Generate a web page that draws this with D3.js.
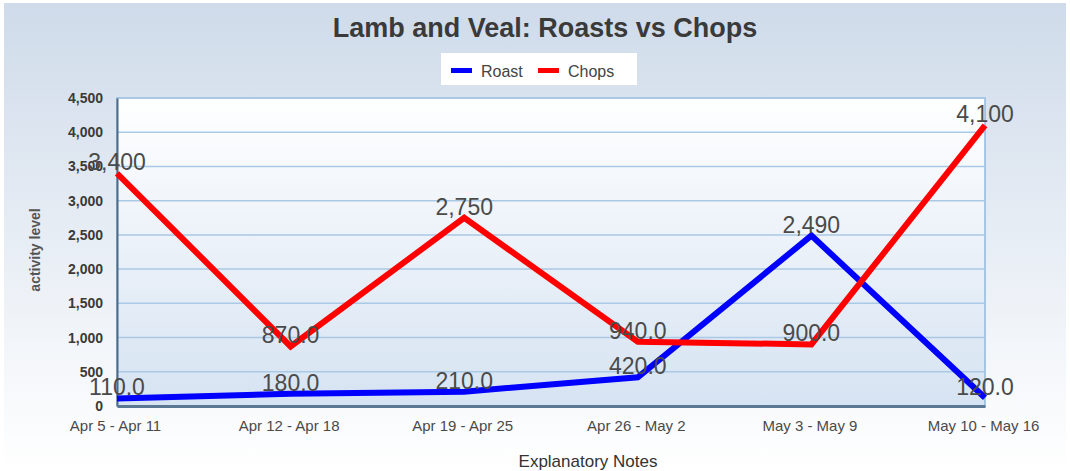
<!DOCTYPE html>
<html><head><meta charset="utf-8">
<script src="https://cdn.jsdelivr.net/npm/d3@7"></script>
<style>body{margin:0;background:#fff}svg{display:block}</style>
</head><body>
<svg id="c" width="1070" height="471"></svg>
<script>
const categories = ["Apr 5 - Apr 11","Apr 12 - Apr 18","Apr 19 - Apr 25","Apr 26 - May 2","May 3 - May 9","May 10 - May 16"];
const roast = [110, 180, 210, 420, 2490, 120];
const chops = [3400, 870, 2750, 940, 900, 4100];
const yTicks = [0,500,1000,1500,2000,2500,3000,3500,4000,4500];
const seriesNames = ["Roast","Chops"];
const seriesColors = ["#0000ff","#ff0000"];
const FONT = "Liberation Sans, Arial, sans-serif";

const svg = d3.select("#c");
const defs = svg.append("defs");
const bg = defs.append("linearGradient").attr("id","bg").attr("x1",0).attr("y1",0).attr("x2",0).attr("y2",1);
bg.append("stop").attr("offset","0%").attr("stop-color","#cfdbea");
bg.append("stop").attr("offset","100%").attr("stop-color","#ffffff");
const pg = defs.append("linearGradient").attr("id","pg").attr("x1",0).attr("y1",0).attr("x2",0).attr("y2",1);
pg.append("stop").attr("offset","0%").attr("stop-color","#ffffff");
pg.append("stop").attr("offset","100%").attr("stop-color","#d6e3f2");

svg.append("rect").attr("x",4).attr("y",3).attr("width",1062).attr("height",468).attr("fill","url(#bg)");

const L = 117, R = 985, T = 98, B = 406;
const x = d3.scalePoint().domain(categories).range([L,R]);
const y = d3.scaleLinear().domain([0,4500]).range([B,T]);

svg.append("rect").attr("x",L).attr("y",T).attr("width",R-L).attr("height",B-T).attr("fill","url(#pg)")
  .attr("stroke","#8fb8dc").attr("stroke-width",1.5);

// gridlines
svg.append("g").selectAll("line").data(yTicks.filter(d=>d>0)).join("line")
  .attr("x1",L).attr("x2",R).attr("y1",d=>y(d)).attr("y2",d=>y(d))
  .attr("stroke","#a9c9e6").attr("stroke-width",1.5);

// axes
const yAxis = svg.append("g").attr("transform",`translate(${L},0)`)
  .call(d3.axisLeft(y).tickValues(yTicks).tickFormat(d3.format(",")).tickSize(0).tickPadding(14));
yAxis.select(".domain").attr("stroke","#4d6b86").attr("stroke-width",2);
yAxis.selectAll("text").attr("font-family",FONT).attr("font-size",14).attr("font-weight","bold").attr("fill","#3a3a3a");

const xAxis = svg.append("g").attr("transform",`translate(0,${B})`)
  .call(d3.axisBottom(x).tickSize(0).tickPadding(14));
xAxis.select(".domain").attr("stroke","#5a7893").attr("stroke-width",3);
xAxis.selectAll("text").attr("font-family",FONT).attr("font-size",15).attr("fill","#4a4a4a").attr("dx",-2);

// lines
const line = d3.line().x((d,i)=>x(categories[i])).y(d=>y(d));
[roast, chops].forEach((s,k)=>{
  svg.append("path").datum(s).attr("d",line).attr("fill","none")
    .attr("stroke",seriesColors[k]).attr("stroke-width",6).attr("stroke-linejoin","miter");
});

// data labels
const fmt = v => v >= 1000 ? d3.format(",")(v) : d3.format(".1f")(v);
[roast, chops].forEach((s,k)=>{
  svg.append("g").selectAll("text").data(s).join("text")
    .attr("x",(d,i)=>x(categories[i])).attr("y",d=>y(d)-3)
    .attr("text-anchor","middle")
    .attr("font-family",FONT).attr("font-size",23)
    .attr("fill","#4a4a4a").text(fmt);
});

// title
svg.append("text").attr("x",545).attr("y",37).attr("text-anchor","middle")
  .attr("font-family",FONT).attr("font-size",27).attr("font-weight","bold")
  .attr("fill","#3a3a3a").text("Lamb and Veal: Roasts vs Chops");

// legend
svg.append("rect").attr("x",441).attr("y",53).attr("width",196).attr("height",32).attr("fill","#fff");
const legX = [451, 538];
seriesNames.forEach((n,k)=>{
  svg.append("rect").attr("x",legX[k]).attr("y",68).attr("width",21).attr("height",5).attr("fill",seriesColors[k]);
  svg.append("text").attr("x",legX[k]+30).attr("y",77)
    .attr("font-family",FONT).attr("font-size",16).attr("fill","#444").text(n);
});

// axis titles
svg.append("text").attr("transform","translate(40,250) rotate(-90)").attr("text-anchor","middle")
  .attr("font-family",FONT).attr("font-size",14).attr("font-weight","bold")
  .attr("fill","#555").text("activity level");
svg.append("text").attr("x",588).attr("y",467).attr("text-anchor","middle")
  .attr("font-family",FONT).attr("font-size",17)
  .attr("fill","#333").text("Explanatory Notes");
</script>
</body></html>
